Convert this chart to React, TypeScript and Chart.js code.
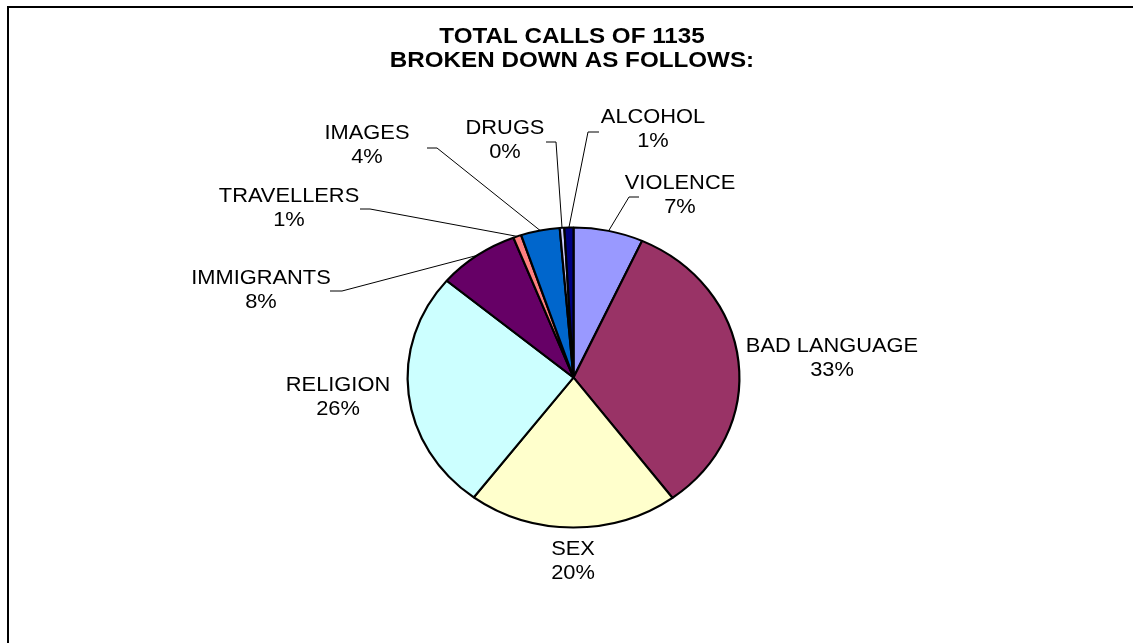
import React, { useEffect, useRef } from "react";
import { Chart, registerables } from "chart.js";

Chart.register(...registerables);

// ---------- data ----------
const titleLines = ["TOTAL CALLS OF 1135", "BROKEN DOWN AS FOLLOWS:"];
const categories = [
  "VIOLENCE",
  "BAD LANGUAGE",
  "SEX",
  "RELIGION",
  "IMMIGRANTS",
  "TRAVELLERS",
  "IMAGES",
  "DRUGS",
  "ALCOHOL",
];
const calls = [77, 375, 232, 294, 90, 9, 43, 5, 10];
const sliceColors = [
  "#9999FF",
  "#993366",
  "#FFFFCC",
  "#CCFFFF",
  "#660066",
  "#FF8080",
  "#0066CC",
  "#CCCCFF",
  "#000080",
];

// ---------- layout (offsets from pie centre, px) ----------
// label block: centre of the category line
const labelOffsets: [number, number][] = [
  [106.5, -194.5],
  [258.5, -31.5],
  [-0.5, 171.5],
  [-235.5, 7.5],
  [-312.5, -99.5],
  [-284.5, -181.5],
  [-206.5, -244.5],
  [-68.5, -249.5],
  [79.5, -260.5],
];
// leader lines: [labelSideX, elbowX, y] or null
const leaderOffsets: ([number, number, number] | null)[] = [
  [65.5, 55.5, -180.5],
  null,
  null,
  null,
  [-243.5, -231.5, -86.5],
  [-213.5, -203.5, -168.5],
  [-146.5, -136.5, -229.5],
  [-27.5, -17.5, -235.5],
  [25.5, 14.5, -245.5],
];

const ELLIPSE_X = 1.106;
const FONT = "'Liberation Sans', Arial, sans-serif";

function drawStretched(ctx: any, text: string, x: number, y: number, sx: number) {
  ctx.save();
  ctx.translate(x, y);
  ctx.scale(sx, 1);
  ctx.fillText(text, 0, 0);
  ctx.restore();
}

const ellipsePlugin = {
  id: "ellipsePie",
  beforeDatasetsDraw(chart: any) {
    const { ctx, chartArea } = chart;
    const cx = (chartArea.left + chartArea.right) / 2;
    const cy = (chartArea.top + chartArea.bottom) / 2;
    ctx.save();
    ctx.translate(cx, cy);
    ctx.scale(ELLIPSE_X, 1);
    ctx.translate(-cx, -cy);
  },
  afterDatasetsDraw(chart: any) {
    const { ctx, chartArea } = chart;
    ctx.restore();
    const cx = (chartArea.left + chartArea.right) / 2;
    const cy = (chartArea.top + chartArea.bottom) / 2;
    const meta = chart.getDatasetMeta(0);
    const values: number[] = chart.data.datasets[0].data;
    const total = values.reduce((a, b) => a + b, 0);

    // title
    ctx.save();
    ctx.fillStyle = "#000";
    ctx.textAlign = "center";
    ctx.textBaseline = "middle";
    ctx.font = `bold 22px ${FONT}`;
    titleLines.forEach((t, i) => drawStretched(ctx, t, 572, 37 + i * 24, 1.1));
    ctx.restore();

    meta.data.forEach((arc: any, i: number) => {
      const mid = (arc.startAngle + arc.endAngle) / 2;
      const r = arc.outerRadius;
      const ex = cx + Math.cos(mid) * r * ELLIPSE_X;
      const ey = cy + Math.sin(mid) * r;
      const lead = leaderOffsets[i];
      ctx.save();
      if (lead) {
        ctx.strokeStyle = "#000";
        ctx.lineWidth = 1;
        ctx.beginPath();
        ctx.moveTo(cx + lead[0], cy + lead[2]);
        ctx.lineTo(cx + lead[1], cy + lead[2]);
        ctx.lineTo(ex, ey);
        ctx.stroke();
      }
      const [lx, ly] = labelOffsets[i];
      ctx.fillStyle = "#000";
      ctx.textAlign = "center";
      ctx.textBaseline = "middle";
      ctx.font = `21px ${FONT}`;
      const pct = Math.round((values[i] / total) * 100) + "%";
      drawStretched(ctx, categories[i], cx + lx, cy + ly, 1.04);
      drawStretched(ctx, pct, cx + lx, cy + ly + 24, 1.04);
      ctx.restore();
    });
  },
};

export default function App() {
  const ref = useRef<HTMLCanvasElement | null>(null);
  useEffect(() => {
    if (!ref.current) return;
    const chart = new Chart(ref.current, {
      type: "pie",
      data: {
        labels: categories,
        datasets: [
          {
            data: calls,
            backgroundColor: sliceColors,
            borderColor: "#000",
            borderWidth: 2,
          },
        ],
      },
      options: {
        animation: false,
        responsive: false,
        devicePixelRatio: 1,
        radius: 150,
        layout: { padding: { top: 227, bottom: 115, left: 423, right: 409 } },
        plugins: {
          legend: { display: false },
          tooltip: { enabled: false },
          title: { display: false },
        },
      },
      plugins: [ellipsePlugin],
    });
    return () => chart.destroy();
  }, []);

  return (
    <div
      style={{
        position: "fixed",
        left: 0,
        top: 0,
        width: 1133,
        height: 643,
        overflow: "hidden",
        background: "#fff",
      }}
    >
      <canvas
        ref={ref}
        width={1133}
        height={643}
        style={{ position: "absolute", left: 0, top: 0, width: 1133, height: 643 }}
      />
      <div
        style={{
          position: "absolute",
          left: 7,
          top: 6,
          width: 1200,
          height: 700,
          border: "2px solid #000",
          boxSizing: "border-box",
          pointerEvents: "none",
        }}
      />
    </div>
  );
}
